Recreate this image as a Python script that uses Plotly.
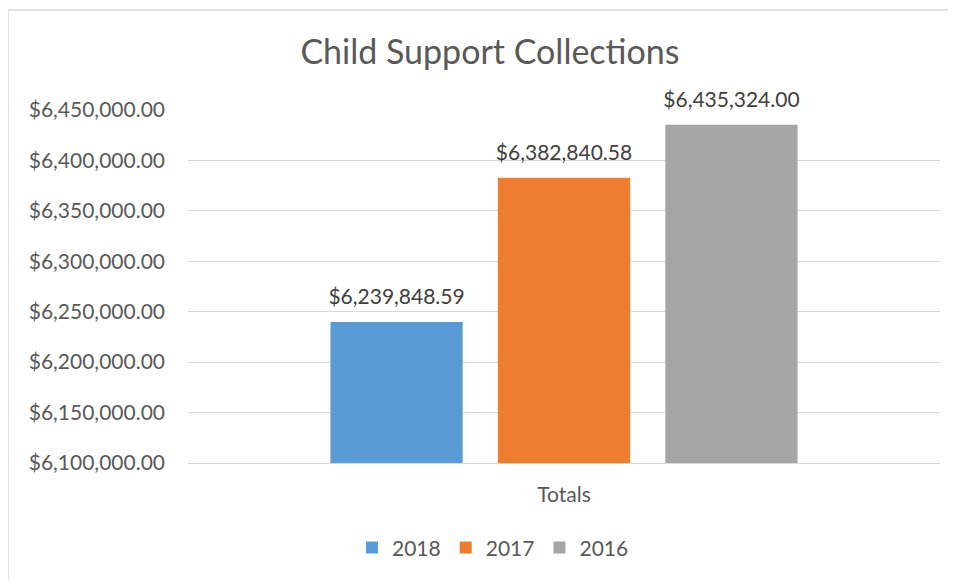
import plotly.graph_objects as go

categories = ["Totals"]
years = ["2018", "2017", "2016"]
totals = [6239848.59, 6382840.58, 6435324.00]
colors = ["#5B9BD5", "#ED7D31", "#A5A5A5"]
y_ticks = [6100000, 6150000, 6200000, 6250000, 6300000, 6350000, 6400000, 6450000]

FONT = "Lato, Carlito, Calibri, sans-serif"
TEXT = "#595959"
GAP = 0.332

fig = go.Figure()
for year, value, color in zip(years, totals, colors):
    fig.add_trace(go.Bar(
        x=categories,
        y=[value],
        name=year,
        offsetgroup=year,
        marker=dict(color=color, line=dict(width=0)),
        hovertemplate="%{y:$,.2f}<extra>" + year + "</extra>",
    ))
    # data label sitting a little above the bar top
    fig.add_trace(go.Scatter(
        x=categories,
        y=[value],
        mode="markers+text",
        offsetgroup=year,
        marker=dict(size=18, opacity=0),
        texttemplate="%{y:$,.2f}",
        textposition="top center",
        textfont=dict(size=21, color="#404040", family=FONT),
        cliponaxis=False,
        showlegend=False,
        hoverinfo="skip",
    ))

# page body adds an 8px offset, so the figure is drawn 8px smaller
fig.update_layout(
    width=948,
    height=572,
    margin=dict(l=180, r=16, t=102, b=117),
    paper_bgcolor="white",
    plot_bgcolor="white",
    font=dict(family=FONT, color=TEXT, size=21),
    title=dict(
        text="Child Support Collections",
        font=dict(size=34, color=TEXT, family=FONT),
        x=0.5084, xref="container", xanchor="center",
        y=0.923, yref="container", yanchor="middle",
    ),
    barmode="group",
    bargap=GAP,
    bargroupgap=0.21,
    scattermode="group",
    scattergap=GAP,
    showlegend=True,
    legend=dict(
        orientation="h",
        x=0.5116, xref="container", xanchor="center",
        y=0.056, yref="container", yanchor="middle",
        font=dict(size=21, color=TEXT),
        itemwidth=30,
    ),
)

fig.update_yaxes(
    range=[6100000, 6450000],
    tickvals=y_ticks,
    tickformat="$,.2f",
    showgrid=True,
    gridcolor="#D9D9D9",
    gridwidth=1,
    zeroline=False,
    ticks="",
    ticklabelstandoff=22,
    tickfont=dict(size=21, color=TEXT),
)
fig.update_xaxes(
    showline=True,
    linecolor="#D9D9D9",
    linewidth=1,
    ticks="",
    ticklabelstandoff=13,
    tickfont=dict(size=21, color=TEXT),
)

# thin chart-area frame: only top and left edges fall inside the window
fig.add_shape(
    type="line", xref="paper", yref="paper",
    x0=-0.2394, x1=1.0213, y0=1.2833, y1=1.2833,
    line=dict(color="#D9D9D9", width=1.5),
    layer="below",
)
fig.add_shape(
    type="line", xref="paper", yref="paper",
    x0=-0.2394, x1=-0.2394, y0=-0.332, y1=1.2833,
    line=dict(color="#D9D9D9", width=1.5),
    layer="below",
)

fig.write_html("out.html")
